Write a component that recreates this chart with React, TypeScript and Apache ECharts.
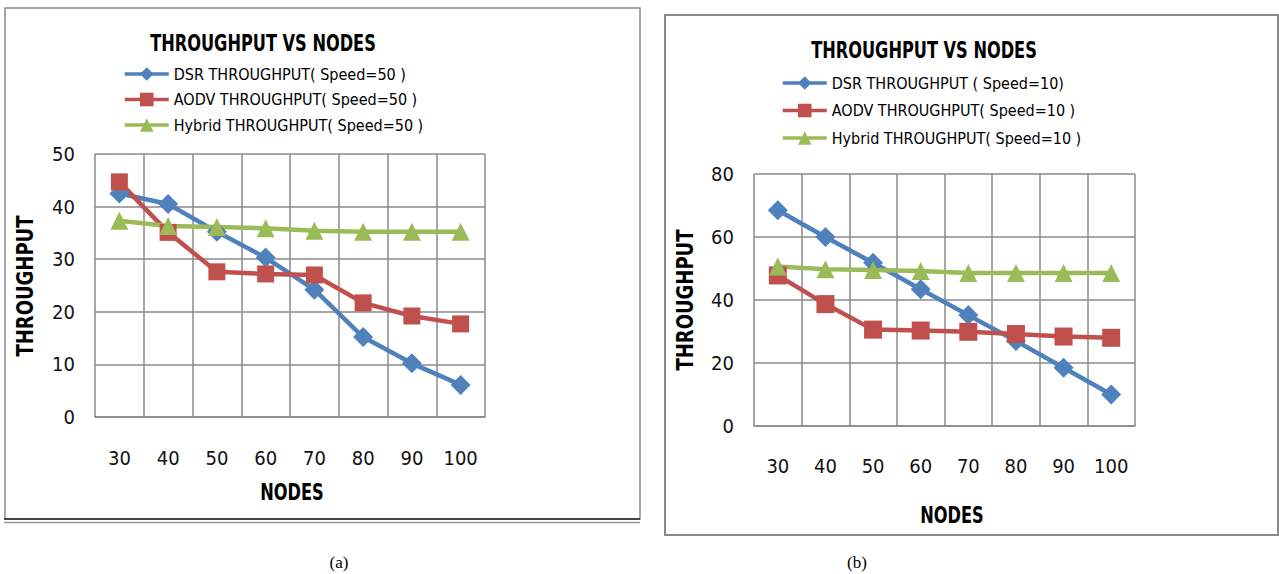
import React, { useEffect, useRef } from "react";
import * as echarts from "echarts";

const nodes = ["30", "40", "50", "60", "70", "80", "90", "100"];
const dsrA = [42.5, 40.5, 35.2, 30.3, 24.2, 15.2, 10.2, 6.1];
const aodvA = [44.7, 35.1, 27.6, 27.2, 27.0, 21.7, 19.2, 17.7];
const hybridA = [37.3, 36.3, 36.1, 35.9, 35.4, 35.2, 35.2, 35.2];
const dsrB = [68.5, 60.0, 51.8, 43.4, 35.2, 27.0, 18.5, 10.0];
const aodvB = [47.8, 38.7, 30.6, 30.3, 29.9, 29.2, 28.4, 28.0];
const hybridB = [50.6, 49.8, 49.5, 49.2, 48.6, 48.6, 48.6, 48.6];

const namesA = ["DSR THROUGHPUT( Speed=50 )", "AODV THROUGHPUT( Speed=50 )", "Hybrid THROUGHPUT( Speed=50 )"];
const namesB = ["DSR THROUGHPUT ( Speed=10)", "AODV THROUGHPUT( Speed=10 )", "Hybrid THROUGHPUT( Speed=10 )"];

const BLUE = "#4F81BD";
const RED = "#C0504D";
const GREEN = "#9BBB59";
const GRID = "#8a8a8a";
const FONT = "'DejaVu Sans Condensed', 'Liberation Sans', sans-serif";

function mkSeries(name: string, data: number[], idx: number, color: string, symbol: string, size: number) {
  return {
    name,
    type: "line",
    xAxisIndex: idx,
    yAxisIndex: idx,
    data,
    symbol,
    symbolSize: size,
    color,
    itemStyle: { color },
    lineStyle: { color, width: 4.5 },
  };
}

function xAxis(idx: number, margin: number) {
  return {
    type: "category",
    gridIndex: idx,
    data: nodes,
    boundaryGap: true,
    axisLine: { lineStyle: { color: GRID, width: 1.5 } },
    axisTick: { show: false },
    splitLine: { show: true, interval: 0, lineStyle: { color: GRID, width: 1.5 } },
    axisLabel: { color: "#111", fontSize: 20, fontFamily: FONT, margin, interval: 0 },
  };
}

function yAxis(idx: number, max: number, interval: number) {
  return {
    type: "value",
    gridIndex: idx,
    min: 0,
    max,
    interval,
    axisLine: { show: false },
    axisTick: { show: false },
    splitLine: { show: true, lineStyle: { color: GRID, width: 1.5 } },
    axisLabel: { color: "#111", fontSize: 20, fontFamily: FONT, margin: 20 },
  };
}

export default function App() {
  const ref = useRef<HTMLDivElement>(null);
  useEffect(() => {
    if (!ref.current) return;
    const chart = echarts.init(ref.current, undefined, { renderer: "svg" });
    const txt = (
      x: number,
      y: number,
      text: string,
      size: number,
      bold: boolean,
      rot = 0,
      sy = 1,
      family = FONT
    ) => ({
      type: "text",
      x,
      y,
      rotation: rot,
      scaleY: sy,
      style: {
        text,
        fontSize: size,
        fontWeight: bold ? "bold" : "normal",
        fontFamily: family,
        fill: "#000",
        align: "center",
        verticalAlign: "middle",
      },
    });
    const legendBase = {
      orient: "vertical",
      itemWidth: 44,
      itemHeight: 17,
      padding: 0,
      lineStyle: { width: 3.5 },
      textStyle: { fontSize: 16, fontFamily: FONT, color: "#000", lineHeight: 18 },
    };
    chart.setOption({
      animation: false,
      backgroundColor: "#fff",
      grid: [
        { left: 95, top: 154, width: 390, height: 263, containLabel: false },
        { left: 754, top: 174, width: 381, height: 252, containLabel: false },
      ],
      xAxis: [xAxis(0, 31), xAxis(1, 30)],
      yAxis: [yAxis(0, 50, 10), yAxis(1, 80, 20)],
      legend: [
        { ...legendBase, data: namesA, left: 123, top: 65, itemGap: 7.5 },
        { ...legendBase, data: namesB, left: 781, top: 74, itemGap: 9.5 },
      ],
      series: [
        mkSeries(namesA[0], dsrA, 0, BLUE, "diamond", 20),
        mkSeries(namesA[1], aodvA, 0, RED, "rect", 17),
        mkSeries(namesA[2], hybridA, 0, GREEN, "triangle", 18),
        mkSeries(namesB[0], dsrB, 1, BLUE, "diamond", 20),
        mkSeries(namesB[1], aodvB, 1, RED, "rect", 18),
        mkSeries(namesB[2], hybridB, 1, GREEN, "triangle", 18),
      ],
      graphic: [
        { type: "rect", shape: { x: 5, y: 8, width: 635, height: 511 }, style: { fill: "none", stroke: "#8a8a8a", lineWidth: 1.5 }, z: -1 },
        { type: "line", shape: { x1: 4, y1: 519, x2: 640, y2: 519 }, style: { stroke: "#222", lineWidth: 1.5 } },
        { type: "line", shape: { x1: 4, y1: 522.5, x2: 640, y2: 522.5 }, style: { stroke: "#999", lineWidth: 1.5 } },
        { type: "rect", shape: { x: 665, y: 15, width: 613, height: 520 }, style: { fill: "none", stroke: "#8a8a8a", lineWidth: 2 }, z: -1 },
        txt(263, 43, "THROUGHPUT VS NODES", 18, true, 0, 1.3),
        txt(924, 50, "THROUGHPUT VS NODES", 18, true, 0, 1.3),
        txt(25, 286, "THROUGHPUT", 20, true, Math.PI / 2, 1.15),
        txt(685, 300, "THROUGHPUT", 20, true, Math.PI / 2, 1.15),
        txt(292, 492, "NODES", 18, true, 0, 1.3),
        txt(952, 515, "NODES", 18, true, 0, 1.3),
        txt(339, 562, "(a)", 17, false, 0, 1, "'Liberation Serif', serif"),
        txt(857, 562, "(b)", 17, false, 0, 1, "'Liberation Serif', serif"),
      ],
    });
    return () => chart.dispose();
  }, []);
  return <div ref={ref} style={{ position: "fixed", left: 0, top: 0, width: 1279, height: 574 }} />;
}
